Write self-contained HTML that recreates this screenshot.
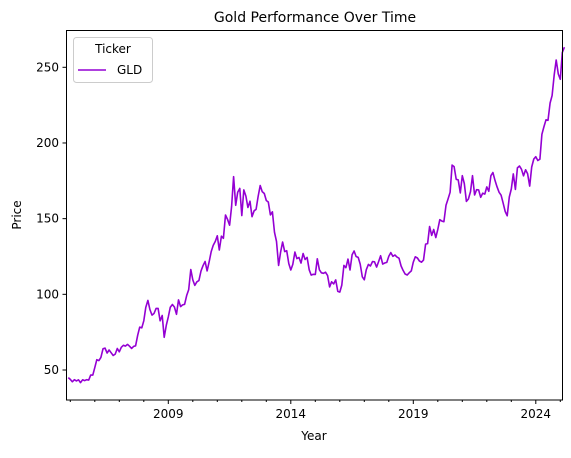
<!DOCTYPE html>
<html><head><meta charset="utf-8"><style>
body{margin:0;background:#fff;}
svg text{font-family:"DejaVu Sans","Liberation Sans",sans-serif;fill:#000;}
</style></head><body>
<svg id="chart" width="571" height="453" xmlns="http://www.w3.org/2000/svg">
<text x="315" y="22" font-size="14" text-anchor="middle">Gold Performance Over Time</text>
<g id="yaxis"></g>
<g id="xaxis"></g>
<path id="line" fill="none" stroke="#9400d3" stroke-width="1.6" stroke-linejoin="round"></path>
<rect x="66.5" y="30.5" width="496" height="369.5" fill="none" stroke="#000" stroke-width="1"/>
<text transform="translate(21,215) rotate(-90)" font-size="12" text-anchor="middle">Price</text>
<text x="314" y="440" font-size="12" text-anchor="middle">Year</text>
<g>
<rect x="73.5" y="37.5" width="79" height="45" rx="3" fill="#fff" stroke="#ccc"/>
<text x="113" y="53" font-size="12" text-anchor="middle">Ticker</text>
<line x1="78" y1="70" x2="106" y2="70" stroke="#9400d3" stroke-width="1.6"/>
<text x="117" y="74" font-size="12">GLD</text>
</g>
</svg>
<script>
const startYear = 2004, startMonth = 10; // Nov 2004
const prices = [45,43.8,
42.2,43.6,42.8,43.5,41.7,43.5,43.0,43.6,43.3,46.6,46.6,51.6,
56.8,56.2,58.3,64.0,64.5,61.2,63.2,61.4,59.6,60.5,64.2,62.0,
65.0,66.3,65.8,66.9,65.7,64.3,65.6,66.0,73.0,78.3,77.9,82.5,
91.4,96.0,90.0,86.3,87.3,90.7,90.7,82.5,86.0,71.6,79.6,85.1,
91.5,93.3,91.6,86.8,96.3,91.9,93.0,93.4,99.3,103.1,116.4,109.5,
105.9,108.3,109.1,115.4,118.9,121.7,115.5,121.3,128.2,132.3,135.0,138.7,
129.3,138.4,137.0,152.4,149.6,145.7,158.0,177.7,158.8,167.5,170.0,152.0,
169.0,164.9,157.4,161.5,151.3,155.2,156.2,164.6,171.9,167.9,166.6,162.0,
161.0,152.5,154.5,141.0,135.0,119.1,127.9,134.6,128.2,128.8,120.3,116.1,
119.8,127.9,123.6,124.3,120.6,127.0,123.0,124.4,116.2,112.7,113.2,113.1,
123.5,116.2,114.2,113.9,114.6,112.4,104.9,108.3,106.9,109.5,101.9,101.5,
106.1,119.1,117.6,123.3,116.1,126.1,128.6,125.0,124.4,120.0,111.6,109.6,
116.3,119.8,118.7,121.6,121.5,118.0,121.6,125.5,120.0,120.7,121.1,125.1,
127.6,125.1,126.0,124.6,123.9,118.7,115.8,113.4,112.8,114.2,115.5,121.3,
124.8,124.0,122.0,121.2,122.6,133.2,133.5,144.8,138.9,142.8,137.5,142.9,
149.3,148.4,148.0,158.8,162.9,167.4,185.4,184.4,176.0,175.6,167.0,178.4,
173.2,161.4,163.0,167.9,178.4,165.6,169.1,169.0,164.1,166.8,166.2,171.0,
168.1,178.4,180.5,175.3,171.1,167.4,165.5,160.4,154.7,151.9,164.3,169.6,
179.6,169.3,183.5,184.8,182.6,178.3,182.3,179.7,171.5,184.1,189.4,190.9,
188.4,189.3,205.7,210.9,215.3,215.0,226.4,231.3,245.0,254.8,245.6,242.1,
259.8,263.3];
const yTicks = [50,100,150,200,250];
const xTickYears = [2009,2014,2019,2024];
const NS = "http://www.w3.org/2000/svg";
function xs(t){ return 168.3 + (t-2009)*24.5; }
function ys(v){ return 370 - (v-50)*1.5135; }
let d = "";
prices.forEach((p,i)=>{ const t = startYear + (startMonth+1+i)/12; d += (i?"L":"M")+xs(t).toFixed(1)+","+ys(p).toFixed(1); });
document.getElementById('line').setAttribute('d', d);
const ya = document.getElementById('yaxis');
yTicks.forEach(v=>{
  const y = ys(v);
  const l = document.createElementNS(NS,'line');
  
  
  l.setAttribute('x1',62.5); l.setAttribute('x2',66.5); l.setAttribute('y1',y); l.setAttribute('y2',y); l.setAttribute('stroke','#000');
  ya.appendChild(l);
  const t = document.createElementNS(NS,'text');
  
  
  t.setAttribute('x',59); t.setAttribute('y',y+4); t.setAttribute('font-size','12'); t.setAttribute('text-anchor','end');
  t.textContent = v; ya.appendChild(t);
});
const xa = document.getElementById('xaxis');
for(let yr=2005; yr<=2025; yr++){
  const x = xs(yr);
  if(x>562.5) continue;
  const major = xTickYears.includes(yr);
  const l = document.createElementNS(NS,'line');
  
  
  l.setAttribute('x1',x); l.setAttribute('x2',x); l.setAttribute('y1',400); l.setAttribute('y2',major?404:402); l.setAttribute('stroke','#000');
  xa.appendChild(l);
  if(major){
    const t = document.createElementNS(NS,'text');
    
    
    t.setAttribute('x',x); t.setAttribute('y',418); t.setAttribute('font-size','12'); t.setAttribute('text-anchor','middle');
    t.textContent = yr; xa.appendChild(t);
  }
}
</script>
</body></html>
